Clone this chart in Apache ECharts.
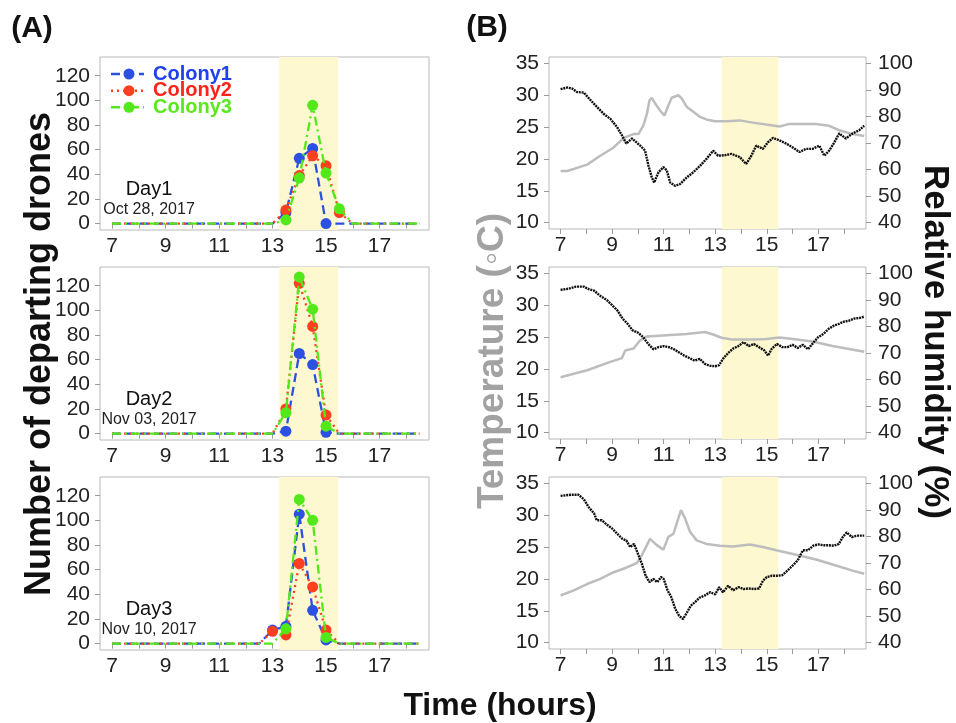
<!DOCTYPE html>
<html><head><meta charset="utf-8">
<script src="https://cdn.jsdelivr.net/npm/echarts@6/dist/echarts.min.js"></script>
<style>html,body{margin:0;padding:0;background:#fff}#c{width:956px;height:723px}</style>
</head><body><div id="c"></div>
<script>
// ---------- data ----------
const times = [7,7.5,8,8.5,9,9.5,10,10.5,11,11.5,12,12.5,13,13.5,14,14.5,15,15.5,16,16.5,17,17.5,18,18.5];
const colonies = ['Colony1','Colony2','Colony3'];
const dayLabels = ['Day1','Day2','Day3'];
const dayDates = ['Oct 28, 2017','Nov 03, 2017','Nov 10, 2017'];

const day1Colony1 = [0,0,0,0,0,0,0,0,0,0,0,0,0, 9,53,61,0,0, 0,0,0,0,0,0];
const day1Colony2 = [0,0,0,0,0,0,0,0,0,0,0,0,0, 11,39,55,47,9, 0,0,0,0,0,0];
const day1Colony3 = [0,0,0,0,0,0,0,0,0,0,0,0,0, 3,37,96,41,12, 0,0,0,0,0,0];
const day2Colony1 = [0,0,0,0,0,0,0,0,0,0,0,0,0, 2,65,56,1,0, 0,0,0,0,0,0];
const day2Colony2 = [0,0,0,0,0,0,0,0,0,0,0,0,0, 20,122,87,15,0, 0,0,0,0,0,0];
const day2Colony3 = [0,0,0,0,0,0,0,0,0,0,0,0,0, 17,127,101,6,0, 0,0,0,0,0,0];
const day3Colony1 = [0,0,0,0,0,0,0,0,0,0,0,0, 11,14,105,27,3,0, 0,0,0,0,0,0];
const day3Colony2 = [0,0,0,0,0,0,0,0,0,0,0,0, 10,7,65,46,11,0, 0,0,0,0,0,0];
const day3Colony3 = [0,0,0,0,0,0,0,0,0,0,0,0, 0,12,117,100,5,0, 0,0,0,0,0,0];
// zero counts that are still drawn with a marker: [day, colony, time]
const markedZeros = [[0,0,15]];

// temperature (°C), [hour, value]
const day1Temp = [[7.0,18.1],[7.26,18.1],[8.03,19.1],[8.54,20.5],[9.06,21.8],[9.45,23.3],[9.83,23.9],[10.02,23.9],[10.22,25.3],[10.35,27.1],[10.45,29.2],[10.54,29.6],[10.67,28.7],[10.86,27.6],[11.03,26.8],[11.18,28.4],[11.31,29.6],[11.57,30.0],[11.7,29.5],[11.89,28.2],[12.15,27.4],[12.41,26.6],[12.66,26.2],[12.98,25.9],[13.44,25.9],[13.95,26.05],[14.46,25.7],[14.98,25.4],[15.49,25.1],[15.88,25.5],[16.91,25.5],[17.42,25.2],[17.81,24.5],[18.33,23.9],[18.78,23.6]];
const day2Temp = [[7.0,18.7],[8.03,19.8],[8.93,21.1],[9.38,21.7],[9.51,22.9],[9.83,23.2],[10.09,24.5],[10.35,25.1],[11.12,25.3],[11.89,25.5],[12.6,25.8],[12.92,25.4],[13.24,24.9],[13.69,24.6],[14.46,24.6],[14.98,24.7],[15.49,24.95],[16.01,24.7],[16.78,24.3],[17.55,23.6],[18.78,22.7]];
const day3Temp = [[7.0,17.4],[7.51,18.2],[8.03,19.2],[8.54,20.0],[9.06,21.05],[9.57,21.8],[9.96,22.5],[10.15,23.7],[10.35,25.3],[10.47,26.3],[10.73,25.3],[10.99,24.6],[11.18,26.6],[11.38,27.1],[11.57,29.5],[11.67,30.8],[11.83,29.5],[12.02,27.4],[12.28,26.05],[12.66,25.5],[13.18,25.2],[13.69,25.1],[14.34,25.4],[14.85,25.0],[15.37,24.5],[16.01,23.9],[16.91,23.05],[17.68,22.1],[18.33,21.3],[18.78,20.8]];

// relative humidity (%), [hour, value]
const day1Hum = [[7.0,90.3],[7.26,90.9],[7.45,90.5],[7.64,89.2],[7.9,89.0],[8.1,86.8],[8.4,83.7],[8.67,81.0],[8.93,79.1],[9.19,76.0],[9.38,72.9],[9.55,69.8],[9.77,71.7],[10.09,69.0],[10.28,67.1],[10.41,61.4],[10.54,57.0],[10.63,55.1],[10.8,59.0],[10.99,60.9],[11.12,59.7],[11.25,55.1],[11.44,53.9],[11.63,54.5],[11.89,57.0],[12.15,59.0],[12.41,61.4],[12.66,64.0],[12.92,67.1],[13.11,65.2],[13.37,65.4],[13.63,65.9],[13.95,64.7],[14.2,62.1],[14.4,65.2],[14.59,69.0],[14.85,67.8],[15.04,70.2],[15.24,71.9],[15.49,71.0],[15.75,69.8],[16.01,68.3],[16.27,66.6],[16.52,67.8],[16.78,67.8],[17.04,69.0],[17.23,65.2],[17.42,67.1],[17.62,70.2],[17.81,73.6],[18.07,71.7],[18.33,73.6],[18.58,74.8],[18.78,76.5]];
const day2Hum = [[7.0,93.8],[7.3,94.2],[7.6,95.0],[7.9,95.0],[8.1,94.0],[8.3,93.5],[8.5,91.8],[8.8,89.9],[9.0,88.0],[9.2,86.1],[9.4,83.0],[9.6,81.0],[9.8,78.5],[10.0,77.7],[10.2,76.0],[10.4,73.4],[10.6,71.4],[10.8,72.2],[11.0,72.6],[11.2,72.2],[11.4,71.4],[11.6,70.2],[11.8,69.0],[12.0,68.1],[12.2,67.1],[12.4,67.8],[12.6,65.9],[12.8,65.2],[13.0,65.0],[13.15,65.4],[13.3,67.8],[13.5,70.0],[13.7,71.7],[13.9,72.6],[14.1,74.1],[14.3,72.6],[14.5,73.4],[14.7,72.2],[14.9,71.0],[15.05,69.0],[15.2,71.7],[15.4,73.4],[15.6,72.2],[15.8,72.2],[16.0,73.1],[16.2,71.9],[16.4,73.1],[16.6,71.4],[16.8,73.8],[17.0,76.0],[17.2,77.2],[17.4,79.1],[17.6,80.3],[17.8,81.0],[18.0,81.8],[18.2,82.2],[18.4,83.0],[18.6,83.2],[18.78,83.7]];
const day3Hum = [[7.0,95.3],[7.4,95.7],[7.7,95.7],[7.9,94.0],[8.1,90.9],[8.3,88.7],[8.4,86.1],[8.6,86.1],[8.8,84.4],[9.0,83.0],[9.2,81.0],[9.4,79.1],[9.55,78.5],[9.7,76.0],[9.85,77.2],[10.0,73.5],[10.15,69.8],[10.3,65.2],[10.45,62.8],[10.6,64.0],[10.75,62.8],[10.9,64.7],[11.0,64.0],[11.15,59.7],[11.3,57.0],[11.45,52.7],[11.6,50.1],[11.75,48.9],[11.9,51.3],[12.05,53.9],[12.2,55.1],[12.4,57.0],[12.6,57.8],[12.8,59.0],[13.0,58.2],[13.15,60.9],[13.3,59.0],[13.5,61.4],[13.7,59.7],[13.9,60.9],[14.1,60.2],[14.3,60.4],[14.5,60.2],[14.7,60.4],[14.85,63.3],[15.0,64.7],[15.2,65.2],[15.4,65.2],[15.6,65.4],[15.8,67.1],[16.0,69.0],[16.2,71.0],[16.4,74.8],[16.6,74.8],[16.8,76.5],[17.0,77.0],[17.2,76.7],[17.4,76.7],[17.6,76.5],[17.8,77.2],[17.95,79.8],[18.1,81.5],[18.3,79.8],[18.5,80.3],[18.78,80.3]];

// ticks
const countTicks = [0,20,40,60,80,100,120];
const hourTicks = [7,8,9,10,11,12,13,14,15,16,17,18];
const hourLabels = [7,9,11,13,15,17];
const tempTicks = [10,15,20,25,30,35];
const humTicks = [40,50,60,70,80,90,100];
const flightBand = [13.25, 15.45];

// ---------- styling / layout ----------
const FONT = '"Liberation Sans", Arial, Helvetica, sans-serif';
const colColors = ['#2b50e2','#ff4020','#52e81a'];
const colTextColors = ['#1f40ea','#ff2418','#5ce820'];
const colDash = [[9,5],[2,4],[9,4,2,4]];
const bandColor = '#fdf8d0';
const frameColor = '#b8b8b8';
const tickColor = '#9a9a9a';
const tops = [57,267,477];

const countData = [
  [day1Colony1, day1Colony2, day1Colony3],
  [day2Colony1, day2Colony2, day2Colony3],
  [day3Colony1, day3Colony2, day3Colony3]
];
const tempData = [day1Temp, day2Temp, day3Temp];
const humData = [day1Hum, day2Hum, day3Hum];

const grid = [], xAxis = [], yAxis = [], series = [];
const labelStyle = {fontSize:21, color:'#222', fontFamily:FONT};

function xAx(gi){
  return {type:'value', gridIndex:gi, min:6.55, max:18.85,
    axisLine:{show:false}, splitLine:{show:false},
    axisTick:{show:true, length:5, lineStyle:{color:tickColor}, customValues:hourTicks},
    axisLabel:Object.assign({customValues:hourLabels, margin:6}, labelStyle)};
}
function yAx(gi, min, max, ticks, pos, margin){
  return {type:'value', gridIndex:gi, min, max, position:pos,
    axisLine:{show:false}, splitLine:{show:false},
    axisTick:{show:true, length:5, lineStyle:{color:tickColor}, customValues:ticks},
    axisLabel:Object.assign({customValues:ticks, margin}, labelStyle)};
}
const bandArea = {silent:true, itemStyle:{color:bandColor}, data:[[{xAxis:flightBand[0]},{xAxis:flightBand[1]}]]};

for (let d=0; d<3; d++){
  // panel A
  const gA = grid.length;
  grid.push({left:100, top:tops[d], width:329, height:173, show:true, borderColor:frameColor, borderWidth:1, backgroundColor:'transparent'});
  xAxis.push(xAx(gA));
  const yA = yAxis.length;
  yAxis.push(yAx(gA, -5.2, 135.2, countTicks, 'left', 10));
  for (let c=0; c<3; c++){
    const vals = countData[d][c];
    const data = times.map((t,i)=>{
      const keep = vals[i] > 0 || markedZeros.some(m=>m[0]===d && m[1]===c && m[2]===t);
      return {value:[t, vals[i]], symbolSize: keep ? 11 : 0};
    });
    series.push({type:'line', name:colonies[c], xAxisIndex:gA, yAxisIndex:yA, data,
      symbol:'circle', showSymbol:true, showAllSymbol:true,
      itemStyle:{color:colColors[c]},
      lineStyle:{color:colColors[c], width:2.3, type:colDash[c]},
      emphasis:{disabled:true}, z:3+c,
      markArea: c===0 ? bandArea : undefined});
  }
  // panel B
  const gB = grid.length;
  grid.push({left:549, top:tops[d], width:317, height:172, show:true, borderColor:frameColor, borderWidth:1, backgroundColor:'transparent'});
  xAxis.push(xAx(gB));
  const yT = yAxis.length;
  yAxis.push(yAx(gB, 9, 36, tempTicks, 'left', 10));
  const yH = yAxis.length;
  yAxis.push(yAx(gB, 37.6, 102.4, humTicks, 'right', 12));
  series.push({type:'line', name:'Temperature', xAxisIndex:gB, yAxisIndex:yT, data:tempData[d],
    showSymbol:false, lineStyle:{color:'#bdbdbd', width:2.5}, emphasis:{disabled:true}, z:2,
    markArea: bandArea});
  series.push({type:'line', name:'Relative humidity', xAxisIndex:gB, yAxisIndex:yH, data:humData[d],
    showSymbol:false, lineStyle:{color:'#111', width:2.4, type:[2,0.8]}, emphasis:{disabled:true}, z:3});
}

// text & legend graphics
const graphic = [
  {type:'text', x:32, y:29, style:{text:'(A)', font:'bold 30px '+FONT, fill:'#111', textAlign:'center', textVerticalAlign:'middle'}},
  {type:'text', x:487, y:28, style:{text:'(B)', font:'bold 30px '+FONT, fill:'#111', textAlign:'center', textVerticalAlign:'middle'}},
  {type:'text', x:40, y:354, rotation:Math.PI/2, style:{text:'Number of departing drones', font:'bold 36px '+FONT, fill:'#111', textAlign:'center', textVerticalAlign:'middle'}},
  {type:'text', x:493, y:361, rotation:Math.PI/2, style:{text:'Temperature (\u25E6C)', font:'bold 37px '+FONT, fill:'#a2a2a2', textAlign:'center', textVerticalAlign:'middle'}},
  {type:'text', x:935, y:342, rotation:-Math.PI/2, style:{text:'Relative humidity (%)', font:'bold 35px '+FONT, fill:'#111', textAlign:'center', textVerticalAlign:'middle'}},
  {type:'text', x:500, y:706, style:{text:'Time (hours)', font:'bold 32px '+FONT, fill:'#111', textAlign:'center', textVerticalAlign:'middle'}}
];
for (let d=0; d<3; d++){
  graphic.push({type:'text', x:149, y:tops[d]+132, style:{text:dayLabels[d], font:'20px '+FONT, fill:'#111', textAlign:'center', textVerticalAlign:'middle'}});
  graphic.push({type:'text', x:149, y:tops[d]+153, style:{text:dayDates[d], font:'16px '+FONT, fill:'#222', textAlign:'center', textVerticalAlign:'middle'}});
}
const legendRows = [74, 90.7, 107.3];
for (let c=0; c<3; c++){
  const y = legendRows[c];
  graphic.push({type:'line', shape:{x1:111, y1:y, x2:144, y2:y}, style:{stroke:colColors[c], lineWidth:2.5, lineDash:colDash[c]}});
  graphic.push({type:'circle', shape:{cx:129, cy:y, r:5.5}, style:{fill:colColors[c]}});
  graphic.push({type:'text', x:153, y:y, style:{text:colonies[c], font:'bold 20px '+FONT, fill:colTextColors[c], textAlign:'left', textVerticalAlign:'middle'}});
}

const chart = echarts.init(document.getElementById('c'), null, {renderer:'canvas'});
chart.setOption({animation:false, backgroundColor:'#fff', grid, xAxis, yAxis, series, graphic});
</script></body></html>
